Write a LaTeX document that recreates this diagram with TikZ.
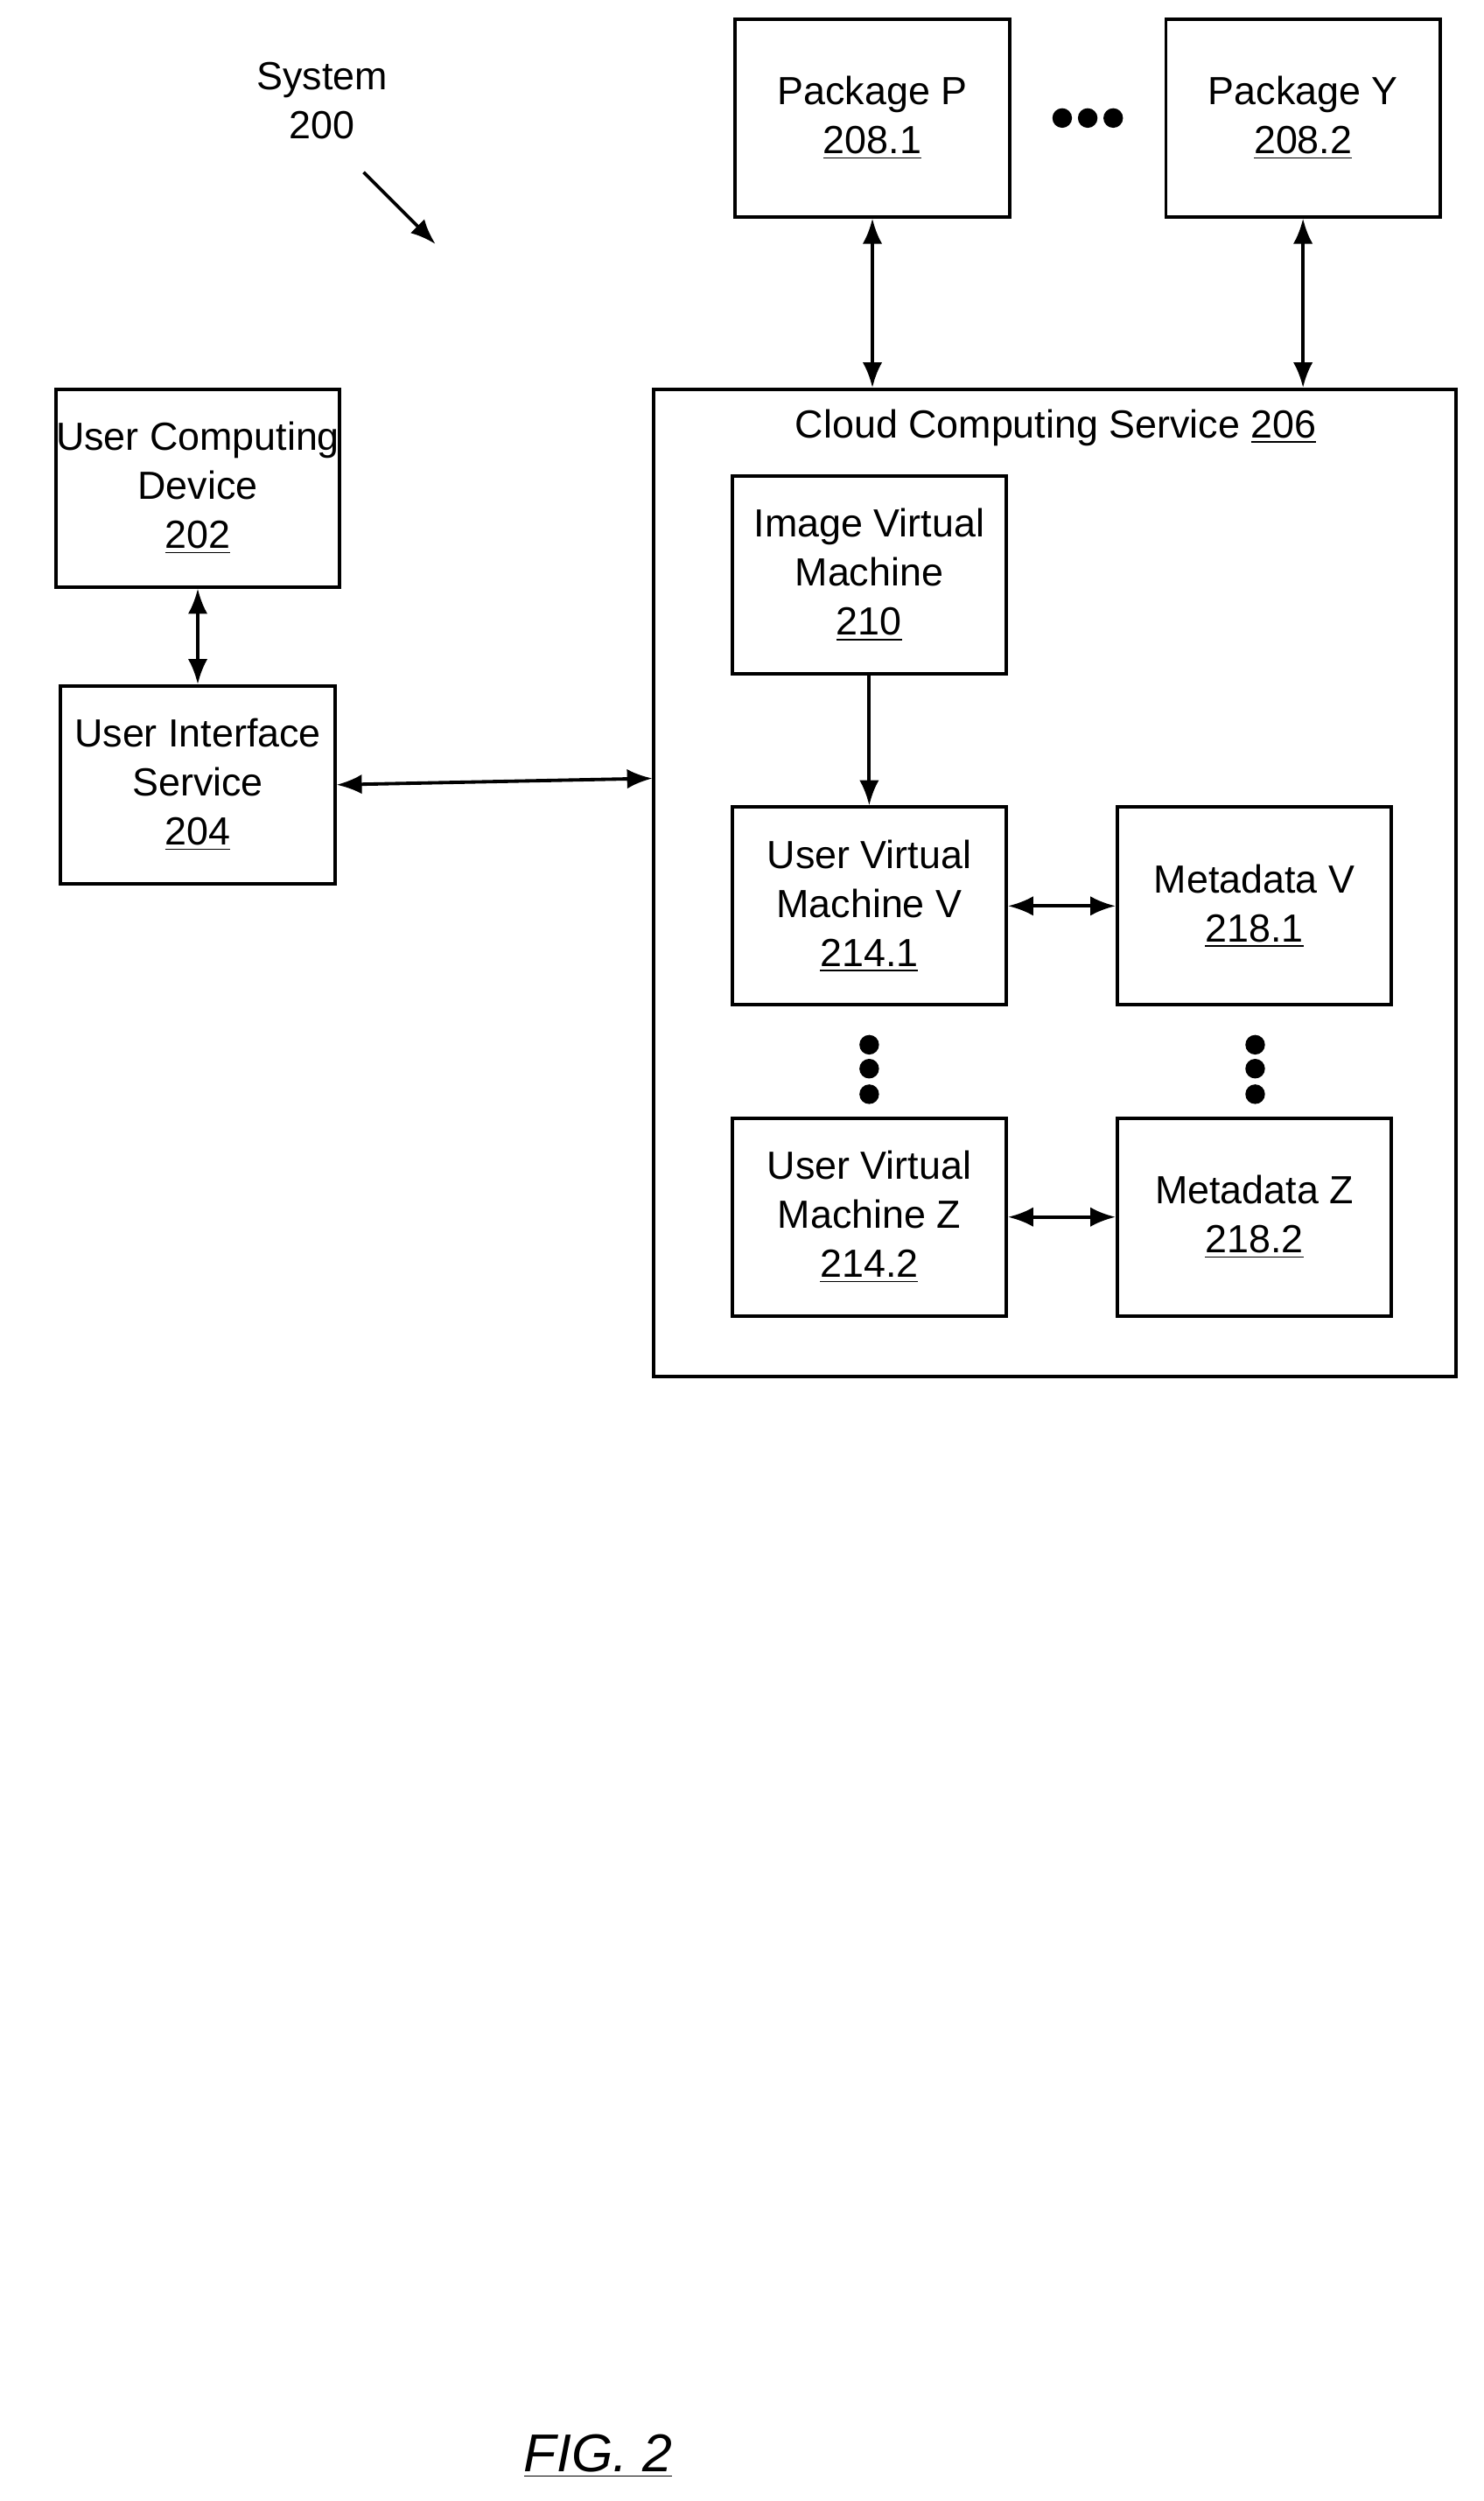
\documentclass[tikz,border=0pt]{standalone}
\usepackage{fontspec}
\setmainfont{Liberation Sans}
\usetikzlibrary{arrows.meta}
\begin{document}
\begin{tikzpicture}[x=0.02cm,y=0.02cm,
	font=\fontsize{14}{17.5}\selectfont,
	box/.style={draw, line width=1.2pt, align=center, minimum width=3.44cm, minimum height=2.48cm, inner sep=0pt},
	link/.style={line width=1.2pt, {Latex[length=9pt,width=7pt]}-{Latex[length=9pt,width=7pt]}},
	flow/.style={line width=1.2pt, -{Latex[length=9pt,width=7pt]}},
	dot/.style={circle, fill=black, inner sep=0pt, minimum size=7pt}]
	\useasboundingbox (0,0) rectangle (930,-1568);

%------------------------------------------------------------
	\node[align=center] (sys) at (202,-63) {System\\200};
	\coordinate (sysa) at (228,-108);
	\coordinate (sysb) at (273,-153);
	\draw[line width=1.2pt, -{Latex[length=9pt,width=7pt]}] (sysa) -- (sysb);

%------------------------------------------------------------
	\node[box] (pkgp) at (547,-74) {Package P\\\underline{208.1}};
	\node[box] (pkgy) at (817,-74) {Package Y\\\underline{208.2}};
	\foreach \x in {666,682,698}
		\node[dot] at (\x,-74) {};

%------------------------------------------------------------
	\node[draw, line width=1.2pt, minimum width=10.06cm, minimum height=12.38cm, inner sep=0pt] (cloud) at (661.5,-553.5) {};
	\node (cloudt) at (662,-268) {Cloud Computing Service \underline{206}};

	\node[box] (ucd) at (124,-306) {User Computing\\Device\\\underline{202}};
	\node[box] (uis) at (124,-492) {User Interface\\Service\\\underline{204}};

%------------------------------------------------------------
	\node[box] (ivm) at (545,-360.5) {Image Virtual\\Machine\\\underline{210}};
	\node[box] (uvmv) at (545,-568) {User Virtual\\Machine V\\\underline{214.1}};
	\node[box] (metav) at (786.5,-568) {Metadata V\\\underline{218.1}};
	\node[box] (uvmz) at (545,-763) {User Virtual\\Machine Z\\\underline{214.2}};
	\node[box] (metaz) at (786.5,-763) {Metadata Z\\\underline{218.2}};
	\foreach \y in {655,670,686} {
		\node[dot] at (545,-\y) {};
		\node[dot] at (787,-\y) {};
	}

%------------------------------------------------------------
	\draw[link] (pkgp.south) -- (pkgp.south |- cloud.north);
	\draw[link] (pkgy.south) -- (pkgy.south |- cloud.north);
	\draw[link] (ucd) -- (uis);
	\draw[link] (uis.east) -- ([yshift=0.08cm]cloud.west |- uis.east);
	\draw[flow] (ivm) -- (uvmv);
	\draw[link] (uvmv) -- (metav);
	\draw[link] (uvmz) -- (metaz);

	\node[font=\fontsize{19}{22}\selectfont\itshape] (fig) at (375,-1540) {\underline{FIG. 2}};
\end{tikzpicture}
\end{document}
